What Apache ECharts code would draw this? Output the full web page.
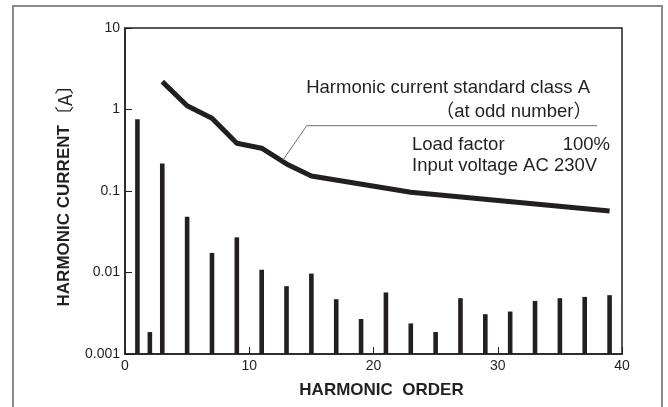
<!DOCTYPE html>
<html>
<head>
<meta charset="utf-8">
<script src="https://cdn.jsdelivr.net/npm/echarts@6/dist/echarts.min.js"></script>
<style>
html,body{margin:0;padding:0;background:#fff;}
#chart{width:668px;height:407px;}
</style>
</head>
<body>
<div id="chart"></div>
<script>
// Measured harmonic current (bars)
var barOrders = [1, 2, 3, 5, 7, 9, 11, 13, 15, 17, 19, 21, 23, 25, 27, 29, 31, 33, 35, 37, 39];
var barValues = [0.76, 0.00186, 0.217, 0.0483, 0.0174, 0.027, 0.0108, 0.0068, 0.0097, 0.0047, 0.00269, 0.00569, 0.00237, 0.00186, 0.00484, 0.00308, 0.00332, 0.00448, 0.00484, 0.00502, 0.00527];
// Harmonic current standard class A (line)
var limitOrders = [3, 5, 7, 9, 11, 13, 15, 23, 39];
var limitValues = [2.2, 1.11, 0.78, 0.386, 0.335, 0.215, 0.153, 0.0964, 0.0568];
// Axes
var xTicks = [0, 10, 20, 30, 40];
var yTickLabels = ['0.001', '0.01', '0.1', '1', '10'];
var yMin = 0.001, yMax = 10;

var ink = '#231f20';
var fontFam = '"Liberation Sans", Arial, "Noto Sans CJK JP", sans-serif';

var chart = echarts.init(document.getElementById('chart'), null, {renderer: 'canvas'});

var barData = barOrders.map(function (o, i) { return [o, barValues[i]]; });
var lineData = limitOrders.map(function (o, i) { return [o, limitValues[i]]; });

var option = {
  animation: false,
  backgroundColor: '#fff',
  grid: {left: 125, right: 46, top: 28, bottom: 53, show: true, borderColor: ink, borderWidth: 1.5, backgroundColor: 'transparent'},
  xAxis: {
    type: 'value', min: xTicks[0], max: xTicks[xTicks.length - 1], interval: 10,
    axisLine: {show: true, onZero: false, lineStyle: {color: ink, width: 1.5}},
    axisTick: {show: true, inside: true, length: 7, lineStyle: {color: ink, width: 1}},
    axisLabel: {color: ink, fontSize: 14, fontFamily: fontFam, margin: 5},
    splitLine: {show: false},
    name: 'HARMONIC  ORDER', nameLocation: 'middle', nameGap: 28,
    nameTextStyle: {color: ink, fontSize: 17, fontWeight: 'bold', fontFamily: fontFam, padding: [0, 0, 0, 16]}
  },
  yAxis: {
    type: 'log', logBase: 10, min: yMin, max: yMax,
    axisLine: {show: true, lineStyle: {color: ink, width: 1.5}},
    axisTick: {show: true, inside: true, length: 7, lineStyle: {color: ink, width: 1}},
    axisLabel: {color: ink, fontSize: 14, fontFamily: fontFam, margin: 5,
      formatter: function (v) {
        var idx = Math.round(Math.log10(v) - Math.log10(yMin));
        return yTickLabels[idx] !== undefined ? yTickLabels[idx] : '';
      }},
    splitLine: {show: false},
    minorTick: {show: false},
    name: '{b|HARMONIC CURRENT}{n|〔A〕}', nameLocation: 'middle', nameGap: 43, nameRotate: 90,
    nameTextStyle: {
      padding: [0, 0, 0, 0],
      rich: {
        b: {color: ink, fontSize: 17, fontWeight: 'bold', fontFamily: fontFam},
        n: {color: ink, fontSize: 19, fontFamily: '"Noto Sans CJK JP", "Liberation Sans", sans-serif'}
      }
    }
  },
  series: [
    {
      type: 'custom',
      data: barData,
      z: 2,
      renderItem: function (params, api) {
        var x = api.value(0), y = api.value(1);
        var top = api.coord([x, y]);
        var base = api.coord([x, yMin]);
        var w = 4.6;
        return {type: 'rect', shape: {x: top[0] - w / 2, y: top[1], width: w, height: base[1] - top[1]}, style: {fill: ink}};
      }
    },
    {
      type: 'line',
      data: lineData,
      showSymbol: false,
      symbol: 'none',
      z: 3,
      lineStyle: {color: ink, width: 5, cap: 'butt', join: 'round'}
    }
  ],
  graphic: [
    {type: 'polyline', silent: true, shape: {points: [[13, 407], [13, 6], [662, 6], [662, 407]]}, style: {stroke: '#8a8a8a', lineWidth: 2, fill: null}},
    {type: 'polyline', silent: true, z: 10, shape: {points: [[597, 125.7], [306.7, 125.7], [283, 160]]}, style: {stroke: '#6e6e6e', lineWidth: 1, fill: null}},
    {type: 'text', silent: true, z: 10, style: {text: 'Harmonic current standard class A', x: 590, y: 87.5, align: 'right', verticalAlign: 'middle', fill: ink, font: '18.5px ' + fontFam}},
    {type: 'text', silent: true, z: 10, style: {text: '（at odd number）', x: 592, y: 112, align: 'right', verticalAlign: 'middle', fill: ink, font: '18.5px ' + fontFam}},
    {type: 'text', silent: true, z: 10, style: {text: 'Load factor', x: 412, y: 145, align: 'left', verticalAlign: 'middle', fill: ink, font: '18.5px ' + fontFam}},
    {type: 'text', silent: true, z: 10, style: {text: '100%', x: 610, y: 145, align: 'right', verticalAlign: 'middle', fill: ink, font: '18.5px ' + fontFam}},
    {type: 'text', silent: true, z: 10, style: {text: 'Input voltage AC 230V', x: 412, y: 165.5, align: 'left', verticalAlign: 'middle', fill: ink, font: '18.5px ' + fontFam}}
  ]
};
chart.setOption(option);
</script>
</body>
</html>
